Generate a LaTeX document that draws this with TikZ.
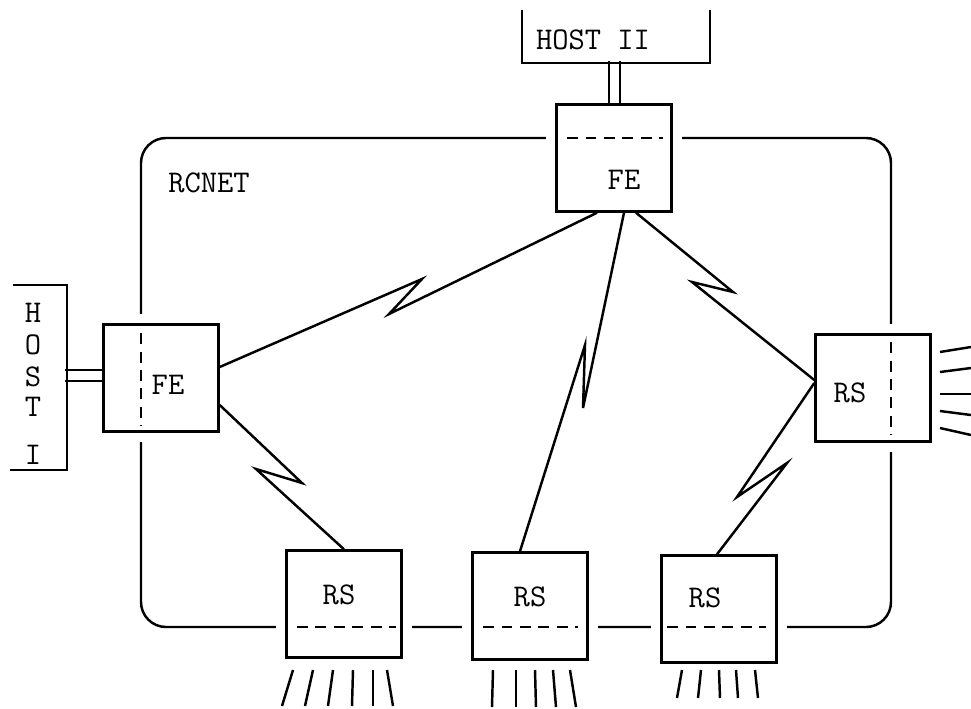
\documentclass[tikz,border=0pt]{standalone}
\usetikzlibrary{calc}
\begin{document}
\begin{tikzpicture}[x=0.02cm, y=-0.02cm, line width=1.4pt,
    box/.style={draw, fill=white, preaction={draw=white, line width=0.42cm}, minimum width=2.3cm, minimum height=2.14cm, inner sep=0pt},
    lbl/.style={font=\fontsize{18}{20}\selectfont\ttfamily, inner sep=0pt},
    rim/.style={dash pattern=on 0.22cm off 0.15cm}]
    \useasboundingbox (0,0) rectangle (971,708);
    \draw[rounded corners=0.5cm] (141,138) rectangle (891,627);

    \node[box] (fe2) at (614,158) {};
    \node[box] (fe1) at (161,378) {};
    \node[box] (rs4) at (873,388) {};
    \node[box] (rs1) at (344,604) {};
    \node[box] (rs2) at (530,606) {};
    \node[box] (rs3) at (719,609) {};

    \draw[rim] (567,138) -- (663,138);
    \draw[rim] (141,333) -- (141,426);
    \draw[rim] (891,342) -- (891,435);
    \draw[rim] (297,627) -- (396,627);
    \draw[rim] (483,627) -- (578,627);
    \draw[rim] (667,627) -- (766,627);

    \node[lbl] (t2) at (624,180) {FE};
    \node[lbl] (t1) at (168,385) {FE};
    \node[lbl] (t4) at (850,393) {RS};
    \node[lbl] (u1) at (339,595) {RS};
    \node[lbl] (u2) at (530,597) {RS};
    \node[lbl] (u3) at (705,598) {RS};
    \node[lbl] (net) at (209,183) {RCNET};

    \draw (522,10) -- (522,63) -- (710,63) -- (710,10);
    \node[lbl] (host2) at (593,40) {HOST II};
    \draw ($(fe2.north)+(-5,0)$) -- ++(0,-42);
    \draw ($(fe2.north)+(6,0)$) -- ++(0,-42);

    \draw (13,285) -- (67,285) -- (67,470) -- (10,470);
    \foreach \c/\y in {H/313,O/345,S/377,T/407,I/455}
        \node[lbl] (host1\c) at (33,\y) {\c};
    \draw ($(fe1.west)+(0,-8)$) -- ++(-37,0);
    \draw ($(fe1.west)+(0,3)$) -- ++(-37,0);

    \draw ($(fe1.east)+(0,-11)$) -- (422,279) -- (389,314) -- ($(fe2.south)+(-17,0)$);
    \draw ($(fe2.south)+(10,0)$) -- (583,408) -- (585,345) -- ($(rs2.north)+(-10,0)$);
    \draw ($(fe2.south)+(22,0)$) -- (733,292) -- (692,282) -- ($(rs4.west)+(0,-8)$);
    \draw ($(rs4.west)+(0,-5)$) -- (737,497) -- (787,463) -- ($(rs3.north)+(-2,0)$);
    \draw ($(fe1.east)+(0,27)$) -- (302,483) -- (256,469) -- (rs1.north);

    \foreach \xa/\xb in {293/282, 313/305, 333/328, 353/352, 373/373, 387/393}
        \draw (\xa,670) -- (\xb,706);
    \foreach \xa/\xb in {493/492, 516/516, 535/536, 553/556, 570/576}
        \draw (\xa,670) -- (\xb,707);
    \foreach \xa/\xb in {682/677, 701/698, 719/720, 736/738, 755/758}
        \draw (\xa,670) -- (\xb,698);
    \foreach \ya/\yb in {352/347, 372/368, 394/394, 411/415, 428/435}
        \draw (940,\ya) -- (971,\yb);
\end{tikzpicture}
\end{document}
